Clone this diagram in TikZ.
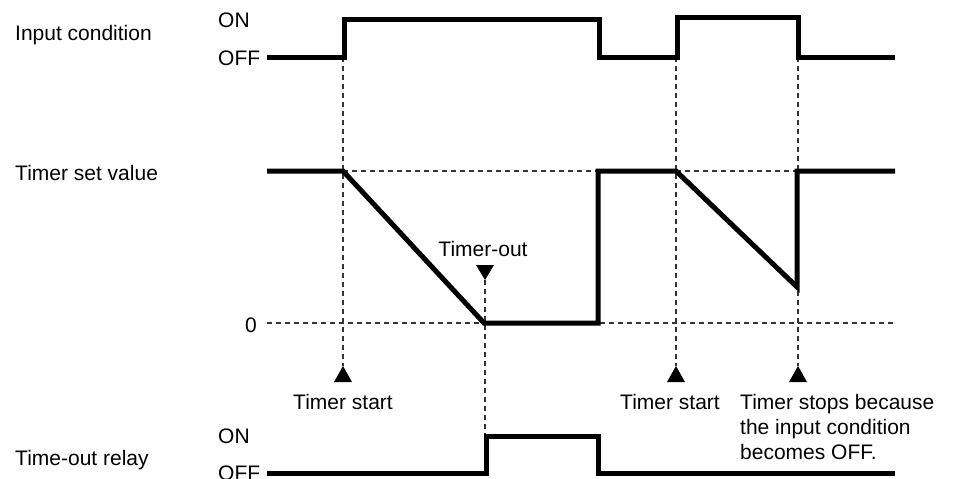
\documentclass[tikz,border=0pt]{standalone}
\usepackage{fontspec}
\setmainfont{Liberation Sans}
\begin{document}
\begin{tikzpicture}[x=1pt,y=-1pt,
  wave/.style={line width=5pt, line join=miter, line cap=butt},
  guide/.style={line width=1.3pt, dash pattern=on 5pt off 4pt, black!80},
  lbl/.style={font=\fontsize{21}{25}\selectfont, inner sep=0pt},
  tri/.style={fill=black}]
\useasboundingbox (0,0) rectangle (954,479);

% time marks
\coordinate (t0) at (267,0);
\coordinate (t1) at (343,0);
\coordinate (t2) at (485,0);
\coordinate (t3) at (598,0);
\coordinate (t4) at (676,0);
\coordinate (t5) at (798,0);
\coordinate (t6) at (895,0);

% labels
\node[lbl, anchor=base west] (lin) at (15,41) {Input condition};
\node[lbl, anchor=base west] (inon) at (218,27.5) {ON};
\node[lbl, anchor=base west] (inoff) at (218,65.5) {OFF};
\node[lbl, anchor=base west] (lset) at (15,180.5) {Timer set value};
\node[lbl, anchor=base west] (lzero) at (245,332.5) {0};
\node[lbl, anchor=base] (lout) at (483,256.5) {Timer-out};
\node[lbl, anchor=base] (ls1) at (343,409.5) {Timer start};
\node[lbl, anchor=base] (ls2) at (670,409.5) {Timer start};
\node[lbl, anchor=base west] (lst1) at (740,409.5) {Timer stops because};
\node[lbl, anchor=base west] (lst2) at (740,434.5) {the input condition};
\node[lbl, anchor=base west] (lst3) at (740,459.5) {becomes OFF.};
\node[lbl, anchor=base west] (lrel) at (15,465.5) {Time-out relay};
\node[lbl, anchor=base west] (ron) at (218,443.5) {ON};
\node[lbl, anchor=base west] (roff) at (218,480.5) {OFF};

% guides
\coordinate (g1a) at (343,57);  \coordinate (g1b) at (343,366);
\coordinate (g4a) at (676,57);  \coordinate (g4b) at (676,366);
\coordinate (g5a) at (798,57);  \coordinate (g5b) at (798,366);
\coordinate (g2a) at (485,280); \coordinate (g2b) at (485,436);
\coordinate (hsa) at (343,171); \coordinate (hsb) at (798,171);
\coordinate (hza) at (267,323); \coordinate (hzb) at (895,323);
\draw[guide] (g1a) -- (g1b);
\draw[guide] (g4a) -- (g4b);
\draw[guide] (g5a) -- (g5b);
\draw[guide] (g2a) -- (g2b);
\draw[guide] (hsa) -- (hsb);
\draw[guide] (hza) -- (hzb);

% triangles
\fill[tri] (g1b) -- ++(-9,16) -- ++(18,0) -- cycle;
\fill[tri] (g4b) -- ++(-9,16) -- ++(18,0) -- cycle;
\fill[tri] (g5b) -- ++(-9,16) -- ++(18,0) -- cycle;
\fill[tri] (g2a) -- ++(-9,-15) -- ++(18,0) -- cycle;

% waveforms
\draw[wave] (267,57) -- (344,57) -- (344,19) -- (599,19) -- (599,57)
  -- (677,57) -- (677,17) -- (798,17) -- (798,57) -- (895,57);
\draw[wave] (267,171) -- (343,171) -- (484,323) -- (598,323) -- (598,171)
  -- (676,171) -- (797,287) -- (797,171) -- (895,171);
\draw[wave] (267,473) -- (486,473) -- (486,436) -- (598,436) -- (598,473)
  -- (895,473);
\end{tikzpicture}
\end{document}
